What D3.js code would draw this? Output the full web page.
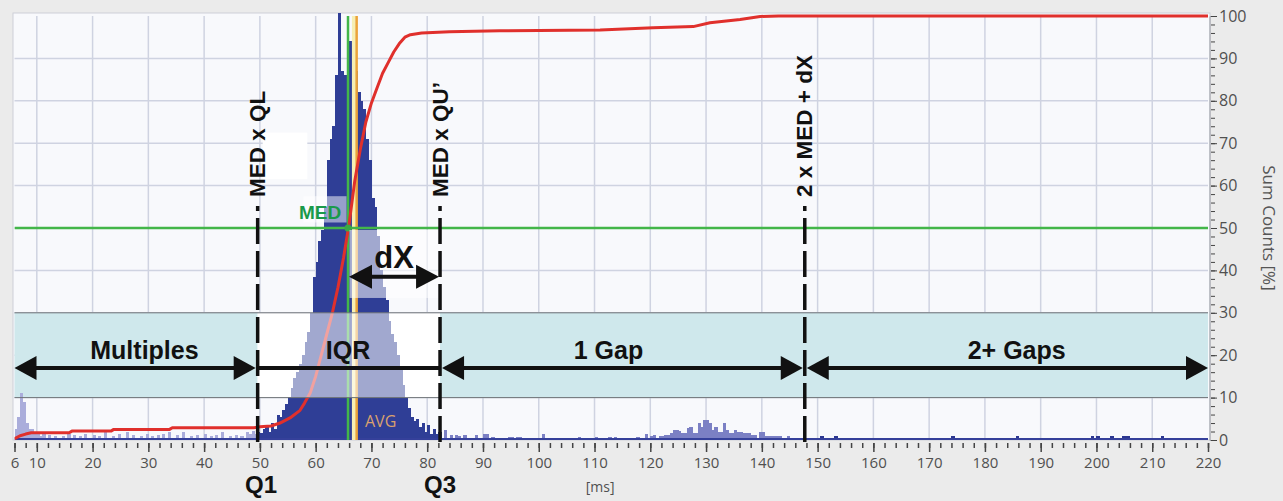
<!DOCTYPE html>
<html lang="en">
<head>
<meta charset="UTF-8">
<title>Interval histogram with cumulative counts</title>
<script src="https://d3js.org/d3.v7.min.js"></script>
<style>
  body { margin: 0; background: #ebebeb; }
  svg { display: block; font-family: "Open Sans", "Noto Sans", sans-serif; }
  .axis text { fill: #505050; font-size: 15px; font-family: "Open Sans", "Noto Sans", sans-serif; }
  .axis line { stroke: #444; }
  .anno { font-family: "Liberation Sans", Arial, sans-serif; font-weight: bold; fill: #111; }
</style>
</head>
<body>
<svg id="chart" width="1283" height="501"></svg>
<script>
// ---- data ----
const binWidth = 0.5;               // ms per histogram bin

// left tail (Multiples) [bin start ms, relative count]
const tailLeftMs    = [6.0, 6.5, 7.0, 7.5, 8.0, 8.5, 9.0, 9.5, 10.0, 10.5, 11.0, 12.0, 13.0, 14.5, 15.5, 16.5, 17.5, 18.5, 20.0, 21.0, 22.0, 23.5, 24.5, 26.0, 27.0, 28.5, 29.5, 30.5, 31.5, 32.5, 33.5, 35.0, 36.0, 37.5, 38.5, 40.0, 41.0, 42.0, 43.0, 44.5, 45.5, 46.5, 47.5, 48.0, 48.5, 49.0];
const tailLeftCount = [2.5, 5.5, 11, 9, 4, 2.5, 2.5, 1.5, 2, 1, 1.5, 1.2, 1, 1, 1.5, 1.2, 1, 1.5, 1.2, 1, 1.8, 1, 1.5, 2, 1.2, 1, 1.5, 1, 1.2, 1.5, 2, 1.2, 1.8, 1, 1.2, 1.5, 1, 1.2, 1.8, 1, 1.2, 1, 2, 1.5, 2.2, 1.5];

// main peak, contiguous bins from peakStart
const peakStart = 49.5;
const peakCount = [2, 1.7, 2.5, 3.1, 2, 4, 2.5, 5.9, 5.5, 7, 8.5, 10.2, 12.2, 14.6, 16, 18, 20, 23, 25.5, 30,
                   38.5, 42, 47, 49.5, 55, 66, 71, 74, 86, 110, 87, 86, 80, 94, 87, 87, 82, 80, 78, 71,
                   66, 57, 55, 48, 40, 36, 33, 28, 25, 23, 20, 17, 13, 10, 7.5, 5.5, 4.5, 5, 3, 4,
                   2, 3.5, 1.5, 2.5, 1.5, 2];

// 1 Gap region
const tailMidMs    = [83.0, 84.0, 85.0, 85.5, 86.5, 88.5, 90.0, 90.5, 91.5, 94.5, 95.0, 96.0, 96.5, 100.5, 107.0, 110.0, 112.5, 113.5, 117.5, 119.0, 120.0, 120.5, 121.5, 122.0, 122.5, 123.0, 123.5, 124.0, 124.5, 125.0, 125.5, 126.0, 126.5, 127.0, 127.5, 128.0, 128.5, 129.0, 129.5, 130.0, 130.5, 131.0, 131.5, 132.0, 132.5, 133.0, 133.5, 134.0, 134.5, 135.0, 135.5, 136.0, 136.5, 137.0, 137.5, 138.0, 138.5, 139.5, 140.0, 140.5, 141.0, 141.5, 142.0, 142.5, 143.0, 144.5];
const tailMidCount = [2.4, 1.2, 1.2, 1, 1.2, 1.2, 1.3, 1.3, 0.8, 0.8, 0.8, 0.8, 0.8, 1.4, 0.8, 0.8, 0.8, 0.8, 0.8, 1.4, 1, 1.2, 1, 1, 1.2, 1.2, 1.6, 2.4, 2.4, 2.1, 1.6, 1.6, 2.9, 3.1, 1.6, 1.6, 3.9, 3.1, 4.7, 4.7, 4.1, 2.4, 3.1, 2, 2, 3.9, 2.4, 1.6, 1.6, 2.4, 2, 2, 1.6, 1.6, 1.7, 1.2, 1.2, 2, 2, 0.9, 0.9, 0.9, 0.9, 0.9, 0.9, 0.9];

// 2+ Gaps region
const tailFarMs    = [150.5, 153.0, 174.0, 185.5, 199.0, 200.0, 202.5, 204.5, 205.0, 205.5, 211.5];
const tailFarCount = [1, 1, 1, 1, 1, 1, 1, 1, 1, 1, 1];

// cumulative sum counts [%]
const cumMs  = [6, 7, 8, 9, 15.8, 16.3, 23.3, 23.8, 33.8, 34.3, 48.9, 50, 52, 53.6, 55.4, 57.2, 58, 59, 60, 61, 62, 63, 64, 65, 66, 67, 68, 69, 70, 71, 72, 73, 74, 75, 76, 77, 79, 84, 93, 111, 120.5, 127.7, 130.7, 136.1, 139.7, 143, 220];
const cumPct = [0.3, 1, 1.4, 1.7, 1.7, 2.1, 2.1, 2.5, 2.5, 2.9, 2.9, 3.1, 3.3, 4, 5.2, 7, 8.7, 11, 15, 20, 25, 30, 36, 43, 51, 61, 68.5, 75, 79.5, 83, 86.5, 89, 91.5, 93.5, 95, 95.6, 96, 96.3, 96.5, 96.7, 97.2, 97.5, 98.4, 99.2, 99.9, 100, 100];

// markers [ms]
const q1 = 49.6, q3 = 82.3, med = 65.8, avg = 67.35, gapLimit = 147.7;
const bandPct = [10, 30];
const arrowPct = 17, dxPct = 38.5;
const dxBoxPct = [33.5, 50];

const xTicksMajor = [6, 10, 20, 30, 40, 50, 60, 70, 80, 90, 100, 110, 120, 130, 140, 150, 160, 170, 180, 190, 200, 210, 220];
const yTicksMajor = [0, 10, 20, 30, 40, 50, 60, 70, 80, 90, 100];

const regionLabels = [
  { text: "Multiples", ms: 29.3 },
  { text: "IQR", ms: 65.8 },
  { text: "1 Gap", ms: 112.5 },
  { text: "2+ Gaps", ms: 185.7 }
];

// ---- layout ----
const svg = d3.select("#chart");
const pLeft = 14.5, pRight = 1208, pTop = 16, pBottom = 440;

const x = d3.scaleLinear().domain([6, 220]).range([pLeft, pRight]);
const y = d3.scaleLinear().domain([0, 100]).range([pBottom, pTop]);
const yCount = d3.scaleLinear().domain([0, 100]).range([pBottom, pTop]);

svg.append("defs").append("clipPath").attr("id", "plotclip")
  .append("rect").attr("x", pLeft).attr("y", pTop - 3).attr("width", pRight - pLeft).attr("height", pBottom - pTop + 3);

svg.append("rect")
  .attr("x", 13).attr("y", 13).attr("width", pRight - 13 + 2).attr("height", pBottom - 13)
  .attr("fill", "#f8f9fc").attr("stroke", "#cdd0d8");

// grid
const grid = svg.append("g");
grid.selectAll("line.v").data(d3.range(10, 220, 10)).join("line")
  .attr("class", "v")
  .attr("x1", d => x(d)).attr("x2", d => x(d)).attr("y1", pTop).attr("y2", pBottom)
  .attr("stroke", "#cfd3e1").attr("stroke-width", 1.5);
grid.selectAll("line.h").data(d3.range(10, 100, 10)).join("line")
  .attr("class", "h")
  .attr("x1", pLeft).attr("x2", pRight).attr("y1", d => y(d)).attr("y2", d => y(d))
  .attr("stroke", "#cfd3e1").attr("stroke-width", 1.5);

// teal band with white IQR window
const band = svg.append("g");
band.append("rect").attr("x", pLeft).attr("width", x(q1) - pLeft)
  .attr("y", y(bandPct[1])).attr("height", y(bandPct[0]) - y(bandPct[1])).attr("fill", "#cfe8ec");
band.append("rect").attr("x", x(q3)).attr("width", pRight - x(q3))
  .attr("y", y(bandPct[1])).attr("height", y(bandPct[0]) - y(bandPct[1])).attr("fill", "#cfe8ec");
band.append("rect").attr("x", x(q1)).attr("width", x(q3) - x(q1))
  .attr("y", y(bandPct[1])).attr("height", y(bandPct[0]) - y(bandPct[1])).attr("fill", "#ffffff");

// histogram
const bins = [];
tailLeftMs.forEach((m, i) => bins.push({ ms: m, count: tailLeftCount[i] }));
peakCount.forEach((c, i) => bins.push({ ms: peakStart + i * binWidth, count: c }));
tailMidMs.forEach((m, i) => bins.push({ ms: m, count: tailMidCount[i] }));
tailFarMs.forEach((m, i) => bins.push({ ms: m, count: tailFarCount[i] }));

function binColor(d) {
  const c = d.ms + binWidth / 2;
  if (c < q1) return "#aaaddb";
  if (c < q3) return "#2f3e96";
  if (c < gapLimit) return "#7b80c4";
  return "#2c3790";
}

const plot = svg.append("g").attr("clip-path", "url(#plotclip)");
plot.selectAll("rect.bar").data(bins).join("rect")
  .attr("class", "bar")
  .attr("x", d => x(d.ms))
  .attr("width", d => x(d.ms + binWidth) - x(d.ms) + 0.4)
  .attr("y", d => yCount(d.count))
  .attr("height", d => yCount(0) - yCount(d.count))
  .attr("fill", binColor)
  .attr("shape-rendering", "crispEdges");

plot.append("line").attr("x1", pLeft).attr("x2", pRight).attr("y1", pBottom - 1).attr("y2", pBottom - 1)
  .attr("stroke", "#35409a").attr("stroke-width", 2);

// MED / AVG lines
plot.append("rect").attr("x", x(avg - 0.85)).attr("width", x(avg) - x(avg - 0.85))
  .attr("y", pTop).attr("height", pBottom - pTop).attr("fill", "#f6efb4");
plot.append("line").attr("x1", x(avg)).attr("x2", x(avg)).attr("y1", pTop).attr("y2", pBottom)
  .attr("stroke", "#eba33a").attr("stroke-width", 2.5);
plot.append("line").attr("x1", x(med)).attr("x2", x(med)).attr("y1", pTop).attr("y2", pBottom)
  .attr("stroke", "#43b649").attr("stroke-width", 2.5);

// cumulative curve
const cumData = cumMs.map((m, i) => [m, cumPct[i]]);
plot.append("path").datum(cumData)
  .attr("fill", "none").attr("stroke", "#e0302c").attr("stroke-width", 3)
  .attr("stroke-linejoin", "round")
  .attr("d", d3.line().x(d => x(d[0])).y(d => y(d[1])));

plot.append("line").attr("x1", pLeft).attr("x2", pRight).attr("y1", y(50)).attr("y2", y(50))
  .attr("stroke", "#43b649").attr("stroke-width", 2.5);
plot.append("circle").attr("cx", x(med)).attr("cy", y(50)).attr("r", 3.5).attr("fill", "#3aa845");

// white overlays
const over = svg.append("g");
over.append("rect").attr("x", x(q1)).attr("width", x(q3) - x(q1))
  .attr("y", y(bandPct[1])).attr("height", y(bandPct[0]) - y(bandPct[1]))
  .attr("fill", "#fff").attr("opacity", 0.55);
over.append("rect").attr("x", x(med) + 1.5).attr("width", x(q3) - x(med) - 1.5)
  .attr("y", y(dxBoxPct[1]) + 2).attr("height", y(dxBoxPct[0]) - y(dxBoxPct[1]) - 2)
  .attr("fill", "#fff").attr("opacity", 0.55);
over.append("rect").attr("x", x(57.8)).attr("width", x(med) - x(57.8) - 1.5)
  .attr("y", y(57.5)).attr("height", y(51.3) - y(57.5))
  .attr("fill", "#fff").attr("opacity", 0.5);
over.append("rect").attr("x", x(50.5)).attr("width", x(58.5) - x(50.5))
  .attr("y", y(72.5)).attr("height", y(61.5) - y(72.5))
  .attr("fill", "#fff");

// band borders
svg.selectAll("line.bandline").data(bandPct).join("line")
  .attr("class", "bandline")
  .attr("x1", pLeft).attr("x2", pRight).attr("y1", d => y(d)).attr("y2", d => y(d))
  .attr("stroke", "#6f7478").attr("stroke-width", 1);

// dashed limit lines
const limits = [
  { ms: q1, label: "MED x QL" },
  { ms: q3, label: "MED x QU\u2019" },
  { ms: gapLimit, label: "2 x MED + dX" }
];
svg.selectAll("line.limit").data(limits).join("line")
  .attr("class", "limit")
  .attr("x1", d => x(d.ms)).attr("x2", d => x(d.ms))
  .attr("y1", pBottom + 2).attr("y2", 206)
  .attr("stroke", "#111").attr("stroke-width", 3.5)
  .attr("stroke-dasharray", "26,7");
svg.selectAll("text.limit").data(limits).join("text")
  .attr("class", "anno limit")
  .attr("transform", d => `translate(${x(d.ms)},197) rotate(-90)`)
  .attr("dominant-baseline", "central")
  .style("font-size", "22.5px")
  .text(d => d.label);

// arrows
function arrow(x1, x2, yv, headL, headR, len, half) {
  const g = svg.append("g");
  g.append("line").attr("x1", headL ? x1 + len - 2 : x1).attr("x2", headR ? x2 - len + 2 : x2)
    .attr("y1", yv).attr("y2", yv).attr("stroke", "#111").attr("stroke-width", 4);
  if (headL) g.append("path").attr("d", `M${x1},${yv}L${x1 + len},${yv - half}L${x1 + len},${yv + half}Z`).attr("fill", "#111");
  if (headR) g.append("path").attr("d", `M${x2},${yv}L${x2 - len},${yv - half}L${x2 - len},${yv + half}Z`).attr("fill", "#111");
}
const ay = y(arrowPct);
arrow(pLeft, x(q1) - 2, ay, true, true, 22, 12);
arrow(x(q1), x(q3), ay, false, false, 0, 0);
arrow(x(q3) + 2, x(gapLimit) - 2, ay, true, true, 22, 12);
arrow(x(gapLimit) + 2, pRight, ay, true, true, 22, 12);
arrow(x(med) + 1, x(q3) - 1, y(dxPct), true, true, 23, 12);

svg.selectAll("text.region").data(regionLabels).join("text")
  .attr("class", "anno region")
  .attr("x", d => x(d.ms)).attr("y", ay - 9)
  .attr("text-anchor", "middle").style("font-size", "25px")
  .text(d => d.text);

svg.append("text").attr("class", "anno").attr("x", (x(med) + x(q3)) / 2).attr("y", y(dxPct) - 9)
  .attr("text-anchor", "middle").style("font-size", "31px").text("dX");

svg.append("text").attr("class", "anno").attr("x", x(60.8)).attr("y", 219)
  .attr("text-anchor", "middle").style("font-size", "19px").style("fill", "#1a9a4a").text("MED");

svg.append("text").attr("x", x(avg) + 24).attr("y", y(3.1))
  .attr("text-anchor", "middle").style("font-size", "16px").style("fill", "#d9a16e").text("AVG");

// axes
const xMinor = svg.append("g").attr("class", "axis").attr("transform", `translate(0,${pBottom + 3})`)
  .call(d3.axisBottom(x).tickValues(d3.range(6, 221, 2)).tickSize(5).tickFormat(""));
xMinor.select(".domain").remove();
xMinor.selectAll("line").attr("stroke-width", 1.5);

const xMajor = svg.append("g").attr("class", "axis").attr("transform", `translate(0,${pBottom + 3})`)
  .call(d3.axisBottom(x).tickValues(xTicksMajor).tickSize(9).tickPadding(5));
xMajor.select(".domain").remove();
xMajor.selectAll("line").attr("stroke-width", 1.5);

const yMinor = svg.append("g").attr("class", "axis").attr("transform", `translate(${pRight + 3},0)`)
  .call(d3.axisRight(y).tickValues(d3.range(0, 101, 2)).tickSize(4).tickFormat(""));
yMinor.select(".domain").attr("stroke", "#9a9ca4").attr("transform", "translate(-1.5,0)");
yMinor.selectAll("line").attr("stroke", "#555");

const yMajor = svg.append("g").attr("class", "axis").attr("transform", `translate(${pRight + 3},0)`)
  .call(d3.axisRight(y).tickValues(yTicksMajor).tickSize(6).tickPadding(2));
yMajor.select(".domain").remove();
yMajor.selectAll("line").attr("stroke", "#555");
yMajor.selectAll("text").style("font-size", "16px");

svg.append("text").attr("transform", `translate(1263,${y(50)}) rotate(90)`)
  .attr("text-anchor", "middle").style("font-size", "17px").style("fill", "#555")
  .text("Sum Counts  [%]");

svg.append("text").attr("x", x(111)).attr("y", 492).attr("text-anchor", "middle")
  .style("font-size", "14px").style("fill", "#505050").text("[ms]");

svg.selectAll("text.q").data([{ t: "Q1", ms: q1 + 0.6 }, { t: "Q3", ms: q3 }]).join("text")
  .attr("class", "anno q").attr("x", d => x(d.ms)).attr("y", 493)
  .attr("text-anchor", "middle").style("font-size", "24px").text(d => d.t);
</script>
</body>
</html>
